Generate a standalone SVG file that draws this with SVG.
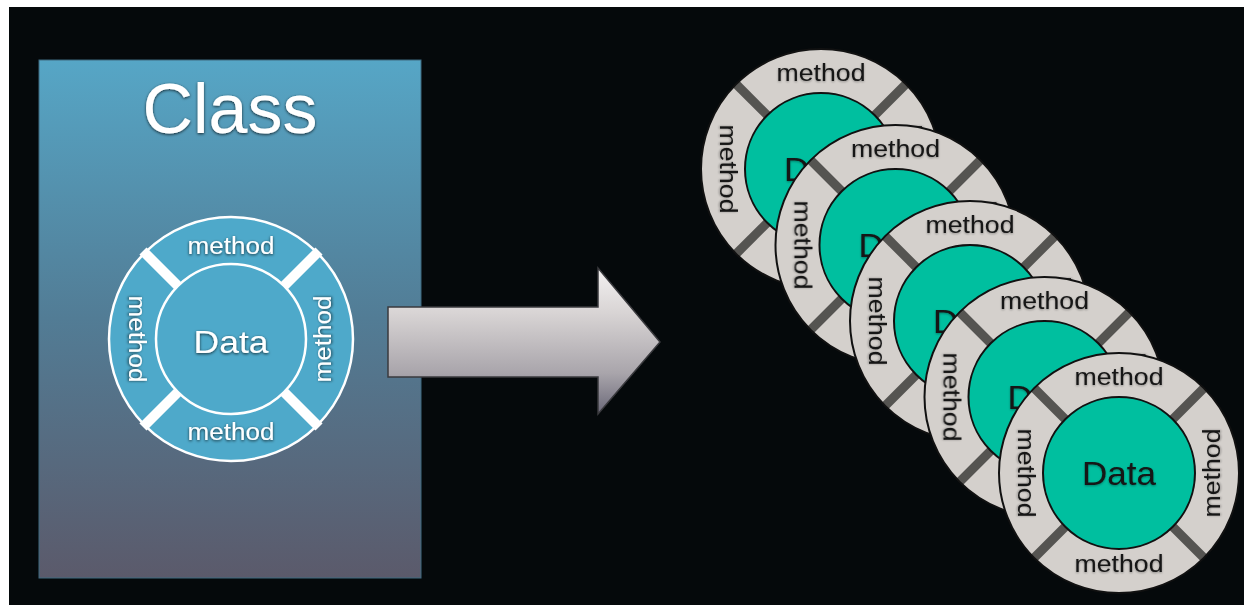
<svg xmlns="http://www.w3.org/2000/svg" width="1244" height="605" viewBox="0 0 1244 605">
<defs>
<linearGradient id="boxGrad" x1="0" y1="60" x2="0" y2="578" gradientUnits="userSpaceOnUse">
<stop offset="0" stop-color="#56a6c6"/>
<stop offset="0.5" stop-color="#527c95"/>
<stop offset="1" stop-color="#5b5a6b"/>
</linearGradient>
<linearGradient id="arrowGrad" x1="0" y1="268" x2="0" y2="414" gradientUnits="userSpaceOnUse">
<stop offset="0" stop-color="#f3f1f1"/>
<stop offset="0.3" stop-color="#d9d5d5"/>
<stop offset="0.72" stop-color="#a9a5ab"/>
<stop offset="1" stop-color="#6a6878"/>
</linearGradient>
<filter id="shadowW" x="-20%" y="-40%" width="140%" height="180%">
<feDropShadow dx="0" dy="1" stdDeviation="1.4" flood-color="#000" flood-opacity="0.75"/>
</filter>
<filter id="shadowB" x="-20%" y="-40%" width="140%" height="180%">
<feDropShadow dx="0" dy="1" stdDeviation="1.3" flood-color="#000" flood-opacity="0.35"/>
</filter>
</defs>
<style>
text { font-family: "Liberation Sans", Arial, Helvetica, sans-serif; text-anchor: middle; }
.wt { fill: #ffffff; filter: url(#shadowW); }
.bt { fill: #141414; filter: url(#shadowB); }
.m { font-size: 23px; }
.d { font-size: 33px; }
.lring { fill: #4ea9ca; stroke: #ffffff; stroke-width: 2.5; }
.lbar { stroke: #ffffff; stroke-width: 10; }
.rring { fill: #d4d0cc; }
.rbar { stroke: #555451; stroke-width: 9; }
.redge { fill: none; stroke: #111111; stroke-width: 2; }
.rcore { fill: #00bf9f; stroke: #111111; stroke-width: 2; }
</style>

<rect x="0" y="0" width="1244" height="605" fill="#ffffff"/>
<rect x="9" y="7" width="1235" height="598" fill="#05090b"/>

<g id="class-box">
<rect x="39" y="60" width="382" height="518" fill="url(#boxGrad)" stroke="#3f6a80" stroke-width="1"/>
<text class="wt" x="230" y="133" style="font-size:70px">Class</text>
</g>

<g id="class-object" transform="translate(231,339)">
<circle class="lring" r="122"/>
<line class="lbar" x1="48" y1="48" x2="88" y2="88"/>
<line class="lbar" x1="-48" y1="48" x2="-88" y2="88"/>
<line class="lbar" x1="48" y1="-48" x2="88" y2="-88"/>
<line class="lbar" x1="-48" y1="-48" x2="-88" y2="-88"/>
<circle class="lring" r="75"/>
<text class="wt m" x="0" y="-85" textLength="87" lengthAdjust="spacingAndGlyphs">method</text>
<text class="wt m" x="0" y="101" textLength="87" lengthAdjust="spacingAndGlyphs">method</text>
<text class="wt m" x="0" y="102" transform="rotate(90)" textLength="87" lengthAdjust="spacingAndGlyphs">method</text>
<text class="wt m" x="0" y="100" transform="rotate(-90)" textLength="87" lengthAdjust="spacingAndGlyphs">method</text>
<text class="wt" x="0" y="14" style="font-size:32px" textLength="75" lengthAdjust="spacingAndGlyphs">Data</text>
</g>

<g id="connectors">
<path d="M388,307 L598,307 L598,268 L660,342 L598,414 L598,377 L388,377 Z" fill="url(#arrowGrad)" stroke="#3a3a3e" stroke-width="1.5"/>
</g>

<g id="object-1" transform="translate(821,169)">
<circle class="rring" r="120"/>
<line class="rbar" x1="50" y1="50" x2="85" y2="85"/>
<line class="rbar" x1="-50" y1="50" x2="-85" y2="85"/>
<line class="rbar" x1="50" y1="-50" x2="85" y2="-85"/>
<line class="rbar" x1="-50" y1="-50" x2="-85" y2="-85"/>
<circle class="redge" r="120"/>
<circle class="rcore" r="76"/>
<text class="bt m" x="0" y="-88" textLength="89" lengthAdjust="spacingAndGlyphs">method</text>
<text class="bt m" x="0" y="99" textLength="89" lengthAdjust="spacingAndGlyphs">method</text>
<text class="bt m" x="0" y="101" transform="rotate(90)" textLength="89" lengthAdjust="spacingAndGlyphs">method</text>
<text class="bt m" x="0" y="101" transform="rotate(-90)" textLength="89" lengthAdjust="spacingAndGlyphs">method</text>
<text class="bt d" x="0" y="12" textLength="74" lengthAdjust="spacingAndGlyphs">Data</text>
</g>

<g id="object-2" transform="translate(895.5,245)">
<circle class="rring" r="120"/>
<line class="rbar" x1="50" y1="50" x2="85" y2="85"/>
<line class="rbar" x1="-50" y1="50" x2="-85" y2="85"/>
<line class="rbar" x1="50" y1="-50" x2="85" y2="-85"/>
<line class="rbar" x1="-50" y1="-50" x2="-85" y2="-85"/>
<circle class="redge" r="120"/>
<circle class="rcore" r="76"/>
<text class="bt m" x="0" y="-88" textLength="89" lengthAdjust="spacingAndGlyphs">method</text>
<text class="bt m" x="0" y="99" textLength="89" lengthAdjust="spacingAndGlyphs">method</text>
<text class="bt m" x="0" y="101" transform="rotate(90)" textLength="89" lengthAdjust="spacingAndGlyphs">method</text>
<text class="bt m" x="0" y="101" transform="rotate(-90)" textLength="89" lengthAdjust="spacingAndGlyphs">method</text>
<text class="bt d" x="0" y="12" textLength="74" lengthAdjust="spacingAndGlyphs">Data</text>
</g>

<g id="object-3" transform="translate(970,321)">
<circle class="rring" r="120"/>
<line class="rbar" x1="50" y1="50" x2="85" y2="85"/>
<line class="rbar" x1="-50" y1="50" x2="-85" y2="85"/>
<line class="rbar" x1="50" y1="-50" x2="85" y2="-85"/>
<line class="rbar" x1="-50" y1="-50" x2="-85" y2="-85"/>
<circle class="redge" r="120"/>
<circle class="rcore" r="76"/>
<text class="bt m" x="0" y="-88" textLength="89" lengthAdjust="spacingAndGlyphs">method</text>
<text class="bt m" x="0" y="99" textLength="89" lengthAdjust="spacingAndGlyphs">method</text>
<text class="bt m" x="0" y="101" transform="rotate(90)" textLength="89" lengthAdjust="spacingAndGlyphs">method</text>
<text class="bt m" x="0" y="101" transform="rotate(-90)" textLength="89" lengthAdjust="spacingAndGlyphs">method</text>
<text class="bt d" x="0" y="12" textLength="74" lengthAdjust="spacingAndGlyphs">Data</text>
</g>

<g id="object-4" transform="translate(1044.5,397)">
<circle class="rring" r="120"/>
<line class="rbar" x1="50" y1="50" x2="85" y2="85"/>
<line class="rbar" x1="-50" y1="50" x2="-85" y2="85"/>
<line class="rbar" x1="50" y1="-50" x2="85" y2="-85"/>
<line class="rbar" x1="-50" y1="-50" x2="-85" y2="-85"/>
<circle class="redge" r="120"/>
<circle class="rcore" r="76"/>
<text class="bt m" x="0" y="-88" textLength="89" lengthAdjust="spacingAndGlyphs">method</text>
<text class="bt m" x="0" y="99" textLength="89" lengthAdjust="spacingAndGlyphs">method</text>
<text class="bt m" x="0" y="101" transform="rotate(90)" textLength="89" lengthAdjust="spacingAndGlyphs">method</text>
<text class="bt m" x="0" y="101" transform="rotate(-90)" textLength="89" lengthAdjust="spacingAndGlyphs">method</text>
<text class="bt d" x="0" y="12" textLength="74" lengthAdjust="spacingAndGlyphs">Data</text>
</g>

<g id="object-5" transform="translate(1119,473)">
<circle class="rring" r="120"/>
<line class="rbar" x1="50" y1="50" x2="85" y2="85"/>
<line class="rbar" x1="-50" y1="50" x2="-85" y2="85"/>
<line class="rbar" x1="50" y1="-50" x2="85" y2="-85"/>
<line class="rbar" x1="-50" y1="-50" x2="-85" y2="-85"/>
<circle class="redge" r="120"/>
<circle class="rcore" r="76"/>
<text class="bt m" x="0" y="-88" textLength="89" lengthAdjust="spacingAndGlyphs">method</text>
<text class="bt m" x="0" y="99" textLength="89" lengthAdjust="spacingAndGlyphs">method</text>
<text class="bt m" x="0" y="101" transform="rotate(90)" textLength="89" lengthAdjust="spacingAndGlyphs">method</text>
<text class="bt m" x="0" y="101" transform="rotate(-90)" textLength="89" lengthAdjust="spacingAndGlyphs">method</text>
<text class="bt d" x="0" y="12" textLength="74" lengthAdjust="spacingAndGlyphs">Data</text>
</g>
</svg>
